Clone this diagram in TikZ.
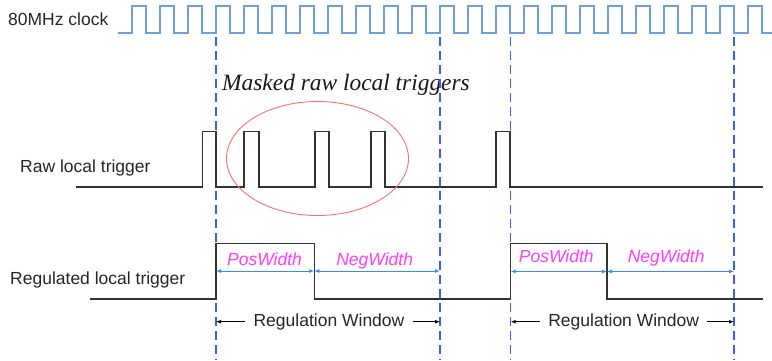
\documentclass[tikz,border=0pt]{standalone}
\usepackage{fontspec}
\setmainfont{Liberation Sans}
\newfontfamily\timesit{Liberation Serif}
\usetikzlibrary{arrows.meta,shapes.geometric}
\definecolor{clk}{HTML}{6E9FD8}
\definecolor{dsh}{HTML}{3A5EF0}
\definecolor{arr}{HTML}{3A8AEE}
\definecolor{mag}{HTML}{FF3CFF}
\definecolor{ell}{HTML}{FF6E6E}
\definecolor{sig}{HTML}{333333}
\tikzset{
  lbl/.style={font=\fontsize{17.5}{20}\selectfont, inner sep=0pt, text=black!85},
  wlbl/.style={font=\fontsize{17.5}{20}\selectfont\itshape, inner sep=0pt, text=mag},
  sigline/.style={draw=sig, line width=1.4pt},
  clkline/.style={draw=clk, line width=1.2pt},
  vdash/.style={draw=dsh, line width=1.4pt, dash pattern=on 9pt off 5pt},
  widtharrow/.style={draw=arr, line width=1pt, {Latex[length=5pt,width=4pt]}-{Latex[length=5pt,width=4pt]}},
  winarrow/.style={draw=black, line width=1pt, -{Latex[length=5pt,width=4pt]}},
}
\begin{document}
\begin{tikzpicture}[x=1pt,y=-1pt]
\useasboundingbox (0,0) rectangle (772,360);
% labels
\node[lbl, anchor=base west] (clklbl) at (8,25) {80MHz clock};
\node[lbl, anchor=base west] (rawlbl) at (20,172.7) {Raw local trigger};
\node[lbl, anchor=base west] (reglbl) at (10,284.3) {Regulated local trigger};
\node[anchor=base west, inner sep=0pt, font=\fontsize{23.4}{26}\timesit\itshape, text=black!90] (masked) at (222,90) {Masked raw local triggers};
% clock
\draw[clkline] (118,33) \foreach \k in {0,...,22} { -- ({132+28*\k},33) -- ({132+28*\k},6) -- ({146+28*\k},6) -- ({146+28*\k},33) } -- (772,33);
% dashed lines
\foreach \n/\x in {a/216,b/440,c/510.5,d/734} {
  \coordinate (top\n) at (\x,37);
  \coordinate (bot\n) at (\x,360);
  \draw[vdash] (top\n) -- (bot\n);
}
% raw trigger
\draw[sigline] (76,187) -- (202.3,187) -- (202.3,131.7) -- (216,131.7) -- (216,187)
  -- (244,187) -- (244,131.7) -- (259,131.7) -- (259,187)
  -- (315,187) -- (315,131.7) -- (329,131.7) -- (329,187)
  -- (371,187) -- (371,131.7) -- (385,131.7) -- (385,187)
  -- (496,187) -- (496,131.7) -- (510,131.7) -- (510,187)
  -- (763,187);
% ellipse
\node[draw=ell, line width=0.9pt, ellipse, minimum width=182pt, minimum height=114pt, inner sep=0pt] (mask) at (317.5,158.5) {};
% regulated trigger
\draw[sigline] (90,299) -- (216,299) -- (216,243.3) -- (314.3,243.3) -- (314.3,299)
  -- (510.7,299) -- (510.7,243.3) -- (607,243.3) -- (607,299) -- (763,299);
% width arrows
\coordinate (pa1) at (216,271);
\coordinate (pb1) at (314.3,271);
\coordinate (pc1) at (440,271);
\coordinate (pa2) at (510.7,271.5);
\coordinate (pb2) at (607,271.5);
\coordinate (pc2) at (734,271.5);
\draw[widtharrow] (pa1) -- (pb1);
\draw[widtharrow] (pb1) -- (pc1);
\draw[widtharrow] (pa2) -- (pb2);
\draw[widtharrow] (pb2) -- (pc2);
\node[wlbl, anchor=base] (pos1) at (264.5,265) {PosWidth};
\node[wlbl, anchor=base] (neg1) at (374.7,265) {NegWidth};
\node[wlbl, anchor=base] (pos2) at (556.3,262.3) {PosWidth};
\node[wlbl, anchor=base] (neg2) at (666.2,262.3) {NegWidth};
% regulation window
\node[lbl, anchor=base] (rw1) at (329,326.7) {Regulation Window};
\node[lbl, anchor=base] (rw2) at (623.7,326.7) {Regulation Window};
\coordinate (rw1l) at (245,321.7);
\coordinate (rw1r) at (412.7,321.7);
\coordinate (rw1a) at (216,321.7);
\coordinate (rw1b) at (440,321.7);
\coordinate (rw2l) at (540,321.7);
\coordinate (rw2r) at (706.7,321.7);
\coordinate (rw2a) at (510.7,321.7);
\coordinate (rw2b) at (734,321.7);
\draw[winarrow] (rw1l) -- (rw1a);
\draw[winarrow] (rw1r) -- (rw1b);
\draw[winarrow] (rw2l) -- (rw2a);
\draw[winarrow] (rw2r) -- (rw2b);
\end{tikzpicture}
\end{document}
